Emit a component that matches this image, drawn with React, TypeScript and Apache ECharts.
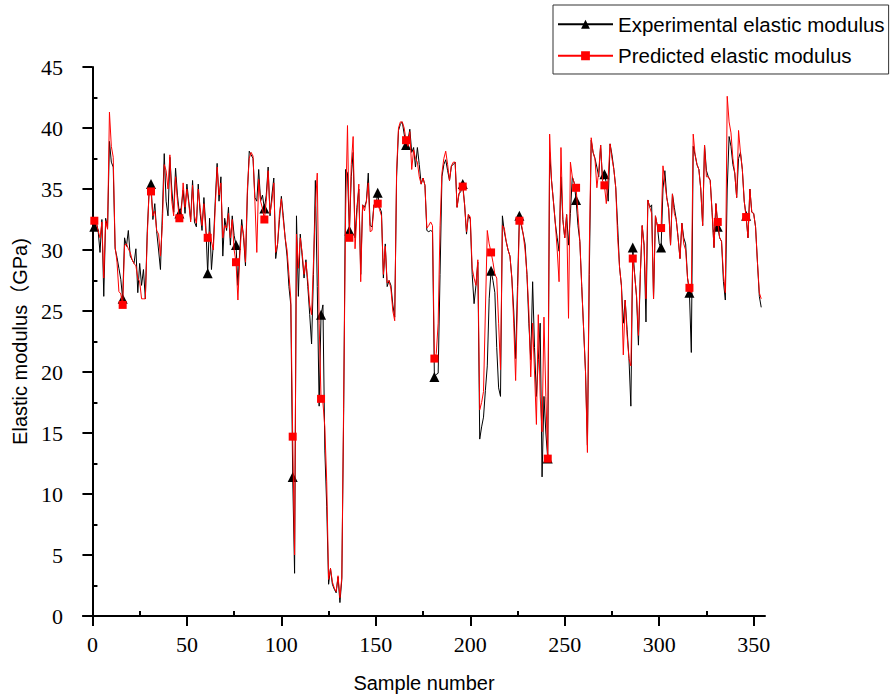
import React, { useEffect, useRef } from "react";
import * as echarts from "echarts";

// Experimental elastic modulus (GPa), samples 1..354
const expValues: number[] = [
  31.9, 32.3, 31.6, 29.8, 32.5, 26.2, 32.6, 31.8, 38.9, 37.2, 36.8, 30.1, 29.4, 28.5, 27.6,
  26.0, 31.0, 30.3, 31.6, 29.5, 29.2, 28.9, 30.1, 26.5, 28.9, 27.1, 28.4, 26.0, 31.5, 34.8,
  35.4, 32.5, 33.8, 31.5, 30.0, 28.4, 33.0, 37.9, 34.0, 32.8, 37.6, 35.0, 33.1, 36.7, 34.5,
  33.0, 33.5, 34.9, 33.0, 35.4, 34.0, 32.5, 35.7, 32.3, 31.9, 35.4, 33.0, 31.6, 34.3, 32.0,
  28.1, 32.6, 28.4, 30.5, 34.0, 37.1, 34.0, 36.0, 29.5, 32.6, 31.6, 33.5, 30.4, 32.8, 31.2,
  30.4, 27.1, 30.0, 32.5, 31.0, 28.7, 34.5, 38.1, 37.8, 37.5, 34.3, 34.0, 36.6, 34.0, 34.5,
  33.4, 34.5, 36.8, 32.8, 34.5, 35.9, 29.3, 30.5, 32.5, 34.4, 32.8, 31.0, 29.5, 27.0, 25.5,
  11.4, 3.5, 32.8, 26.2, 31.3, 29.5, 27.7, 29.2, 27.0, 24.7, 22.3, 28.0, 35.7, 27.0, 17.2,
  24.7, 25.5, 13.6, 9.0, 2.6, 3.9, 2.6, 2.2, 1.9, 3.2, 1.1, 3.0, 17.0, 36.6, 36.3,
  31.6, 36.0, 38.0, 31.0, 33.5, 35.0, 28.0, 33.7, 33.5, 34.0, 36.3, 32.0, 31.9, 33.7, 33.5,
  34.7, 33.5, 33.1, 27.7, 30.5, 27.0, 27.5, 27.1, 25.5, 24.5, 36.0, 39.8, 40.3, 40.5, 39.5,
  38.6, 39.0, 39.9, 38.0, 38.4, 36.8, 38.4, 37.0, 35.4, 35.9, 35.3, 31.6, 31.5, 31.6, 31.5,
  19.6, 19.8, 19.9, 28.0, 36.0, 37.0, 37.4, 36.5, 35.7, 36.9, 37.0, 37.2, 33.5, 34.6, 34.8,
  35.4, 33.7, 31.3, 32.9, 32.5, 28.0, 25.6, 27.1, 29.0, 14.5, 15.5, 16.3, 18.5, 20.5, 26.0,
  28.3, 27.5, 26.5, 22.0, 18.7, 18.0, 32.8, 31.5, 30.7, 30.0, 29.5, 27.7, 25.0, 21.1, 27.0,
  32.8, 32.0, 31.3, 30.5, 28.0, 24.0, 21.0, 27.4, 22.0, 18.0, 21.0, 24.0, 11.4, 18.0, 15.0,
  12.9, 38.0, 35.7, 34.0, 32.2, 31.0, 29.9, 36.0, 32.5, 31.0, 32.9, 30.4, 33.0, 36.0, 35.5,
  34.1, 32.0, 30.7, 27.0, 23.5, 20.0, 14.0, 28.0, 39.0, 38.0, 37.5, 36.8, 36.0, 38.6, 35.7,
  36.2, 35.5, 34.0, 38.7, 37.8, 36.6, 35.1, 32.0, 28.6, 27.1, 24.0, 25.9, 23.5, 21.1, 17.2,
  30.2, 28.0, 26.2, 22.2, 28.0, 32.0, 30.4, 24.1, 34.1, 33.5, 33.7, 26.0, 32.8, 32.0, 30.5,
  30.2, 35.0, 36.5, 34.3, 33.4, 30.4, 34.6, 33.5, 32.5, 31.0, 29.3, 32.2, 31.0, 30.5, 27.7,
  26.5, 21.6, 38.5, 37.8, 37.0, 36.6, 35.0, 32.0, 38.6, 36.5, 36.0, 35.7, 33.1, 30.2, 33.8,
  31.9, 31.0, 30.7, 27.4, 25.9, 35.0, 39.3, 38.5, 37.0, 36.3, 34.3, 37.5, 38.0, 36.6, 34.0,
  32.8, 31.0, 35.0, 33.1, 33.0, 31.9, 29.0, 26.2, 25.3,
];

// Predicted elastic modulus (GPa), samples 1..354
const predValues: number[] = [
  32.4, 32.2, 31.6, 31.0, 32.3, 27.7, 32.4, 31.7, 41.3, 38.5, 37.6, 30.3, 29.0, 26.6, 26.4,
  25.5, 30.4, 30.5, 30.1, 29.8, 29.2, 28.9, 28.7, 27.7, 27.4, 26.0, 26.0, 26.0, 31.0, 34.9,
  34.8, 32.8, 33.2, 31.6, 31.3, 29.5, 32.0, 37.0, 36.5, 35.0, 37.8, 34.0, 32.8, 36.0, 34.0,
  32.6, 33.0, 35.5, 33.5, 35.0, 33.8, 32.3, 35.3, 32.8, 32.2, 35.0, 33.5, 32.0, 33.8, 31.5,
  31.0, 31.5, 30.7, 30.0, 33.5, 36.8, 34.5, 35.5, 31.0, 32.0, 31.8, 33.0, 31.0, 32.5, 30.0,
  29.0, 25.9, 29.5, 32.0, 31.3, 29.0, 35.0, 37.5, 38.0, 37.7, 34.0, 29.8, 35.8, 34.0, 33.4,
  32.5, 34.0, 36.5, 33.0, 34.0, 35.5, 29.8, 30.5, 33.0, 34.2, 32.5, 31.0, 30.0, 28.0, 26.0,
  14.7, 5.0, 31.3, 28.5, 31.0, 29.8, 28.0, 29.0, 27.5, 25.5, 24.7, 29.0, 33.5, 36.3, 24.0,
  17.8, 17.5, 15.5, 11.0, 3.0, 3.9, 2.8, 2.3, 2.0, 3.3, 1.5, 3.2, 18.0, 33.0, 40.2,
  31.0, 37.0, 39.3, 30.1, 33.0, 35.4, 27.4, 33.7, 33.2, 34.0, 35.5, 31.5, 31.6, 33.7, 33.5,
  33.8, 33.3, 32.8, 28.0, 30.3, 27.3, 27.5, 26.8, 25.0, 24.2, 36.5, 40.0, 40.5, 40.5, 40.0,
  39.0, 38.5, 39.7, 36.6, 38.2, 37.5, 37.2, 36.0, 35.4, 35.9, 35.3, 31.8, 32.0, 32.3, 32.0,
  21.1, 21.5, 24.0, 32.0, 36.3, 37.5, 38.1, 37.0, 35.7, 36.9, 37.2, 37.2, 33.5, 34.6, 35.0,
  35.2, 33.7, 31.5, 32.9, 32.7, 28.5, 27.7, 27.1, 29.2, 16.9, 17.5, 18.4, 25.0, 31.6, 30.5,
  29.8, 29.0, 28.0, 27.7, 24.0, 20.2, 32.0, 31.8, 30.7, 30.0, 29.5, 27.7, 24.0, 19.3, 26.0,
  32.4, 32.2, 31.3, 30.0, 28.0, 25.0, 19.6, 24.0, 20.0, 15.7, 24.7, 18.0, 15.1, 24.5, 18.0,
  12.9, 39.5, 35.7, 34.0, 32.2, 30.0, 27.4, 38.4, 32.5, 31.0, 32.9, 24.4, 37.2, 36.0, 35.5,
  35.1, 33.0, 30.7, 27.0, 23.5, 20.0, 13.4, 30.0, 39.2, 38.0, 37.5, 35.1, 36.5, 38.6, 35.7,
  35.3, 33.8, 36.0, 38.7, 37.5, 36.6, 35.1, 31.0, 28.6, 27.1, 21.4, 25.9, 23.0, 21.1, 20.5,
  29.3, 28.0, 26.2, 23.0, 28.0, 32.0, 30.4, 26.0, 34.1, 33.5, 33.0, 26.0, 32.8, 32.0, 31.9,
  31.8, 36.9, 35.5, 34.3, 33.4, 30.4, 34.6, 33.0, 32.5, 31.0, 29.3, 32.2, 30.5, 30.0, 27.7,
  26.9, 26.5, 39.5, 37.8, 37.0, 36.6, 35.0, 32.0, 38.6, 36.0, 36.0, 35.7, 33.1, 30.2, 33.8,
  32.3, 31.0, 30.7, 28.0, 26.5, 42.6, 40.5, 39.6, 37.5, 36.3, 34.3, 39.8, 38.0, 36.6, 34.0,
  32.7, 31.0, 35.0, 33.1, 33.0, 31.9, 29.0, 26.5, 26.0,
];

const xTickValues = [0, 50, 100, 150, 200, 250, 300, 350];
const xMinorTickValues = [25, 75, 125, 175, 225, 275, 325];
const yMinorTickValues = [2.5, 7.5, 12.5, 17.5, 22.5, 27.5, 32.5, 37.5, 42.5];
const markerEvery = 15;

const seriesNames = ["Experimental elastic modulus", "Predicted elastic modulus"];

export default function App() {
  const ref = useRef<HTMLDivElement>(null);

  useEffect(() => {
    if (!ref.current) return;
    const chart = echarts.init(ref.current, null, { renderer: "svg" });
    const serif = "'Liberation Serif', 'Times New Roman', serif";
    const sans = "'Liberation Sans', Arial, 'Noto Sans CJK SC', sans-serif";
    const toPairs = (vals: number[]) => vals.map((v, i) => [i + 1, v]);
    const markerSize = (size: number) => (_v: any, p: any) =>
      p.dataIndex % markerEvery === 0 ? size : 0;

    chart.setOption({
      animation: false,
      backgroundColor: "#ffffff",
      grid: {
        left: 83,
        right: 129,
        top: 67,
        bottom: 81,
        containLabel: false,
        outerBoundsMode: "none",
      },
      legend: {
        orient: "vertical",
        left: 553,
        top: 5,
        itemWidth: 55,
        itemHeight: 11,
        itemGap: 11,
        padding: [9, 4, 8, 4],
        borderColor: "#333",
        borderWidth: 1,
        backgroundColor: "#fff",
        textStyle: { fontFamily: sans, fontSize: 20.5, color: "#000" },
        data: seriesNames,
      },
      xAxis: [
        {
          type: "value",
          min: -5,
          max: 356,
          position: "bottom",
          name: "Sample number",
          nameLocation: "middle",
          nameGap: 57,
          nameTextStyle: { fontFamily: sans, fontSize: 20, color: "#000" },
          axisLine: { show: true, lineStyle: { color: "#000", width: 2 } },
          axisTick: {
            show: true,
            inside: false,
            length: 10,
            lineStyle: { color: "#000", width: 2 },
            customValues: xTickValues,
          },
          axisLabel: {
            customValues: xTickValues,
            fontFamily: serif,
            fontSize: 22,
            color: "#000",
            margin: 17,
          },
          splitLine: { show: false },
        },
        {
          type: "value",
          min: -5,
          max: 356,
          position: "bottom",
          axisLine: { show: false },
          axisTick: {
            show: true,
            inside: true,
            length: 5,
            lineStyle: { color: "#000", width: 2 },
            customValues: xMinorTickValues,
          },
          axisLabel: { show: false },
          splitLine: { show: false },
        },
      ],
      yAxis: [
        {
          type: "value",
          min: 0,
          max: 45,
          interval: 5,
          position: "left",
          name: "Elastic modulus（GPa)",
          nameLocation: "middle",
          nameGap: 51,
          nameRotate: 90,
          nameTextStyle: { fontFamily: sans, fontSize: 20, color: "#000" },
          axisLine: { show: true, lineStyle: { color: "#000", width: 2 } },
          axisTick: {
            show: true,
            inside: false,
            length: 10,
            lineStyle: { color: "#000", width: 2 },
          },
          axisLabel: { fontFamily: serif, fontSize: 22, color: "#000", margin: 20 },
          splitLine: { show: false },
        },
        {
          type: "value",
          min: 0,
          max: 45,
          position: "left",
          axisLine: { show: false },
          axisTick: {
            show: true,
            inside: true,
            length: 5,
            lineStyle: { color: "#000", width: 2 },
            customValues: yMinorTickValues,
          },
          axisLabel: { show: false },
          splitLine: { show: false },
        },
      ],
      series: [
        {
          name: seriesNames[0],
          type: "line",
          xAxisIndex: 0,
          yAxisIndex: 0,
          data: toPairs(expValues),
          symbol: "triangle",
          symbolSize: markerSize(10),
          showSymbol: true,
          showAllSymbol: true,
          lineStyle: { color: "#000", width: 1 },
          itemStyle: { color: "#000" },
          emphasis: { disabled: true },
          z: 2,
        },
        {
          name: seriesNames[1],
          type: "line",
          xAxisIndex: 0,
          yAxisIndex: 0,
          data: toPairs(predValues),
          symbol: "rect",
          symbolSize: markerSize(8),
          showSymbol: true,
          showAllSymbol: true,
          lineStyle: { color: "#ff0000", width: 1 },
          itemStyle: { color: "#ff0000" },
          emphasis: { disabled: true },
          z: 3,
        },
      ],
    });

    return () => chart.dispose();
  }, []);

  return (
    <div
      ref={ref}
      style={{ position: "fixed", left: 0, top: 0, width: 894, height: 697, background: "#fff" }}
    />
  );
}
